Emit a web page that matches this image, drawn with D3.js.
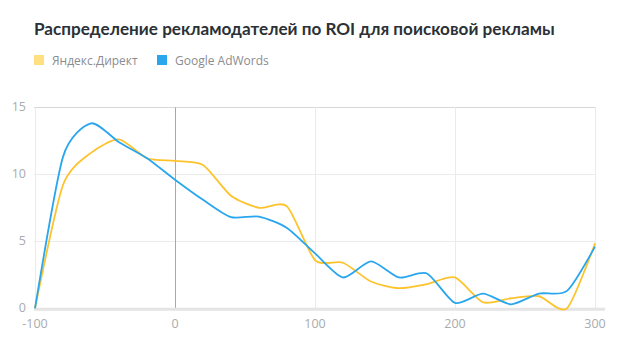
<!DOCTYPE html>
<html><head><meta charset="utf-8">
<script src="https://cdn.jsdelivr.net/npm/d3@7"></script>
<style>
html,body{margin:0;padding:0;background:#fff;}
svg{display:block;font-family:"Open Sans","Noto Sans",sans-serif;}
</style></head>
<body><svg id="c" width="625" height="352"></svg>
<script>
const roi = [-100,-80,-60,-40,-20,0,20,40,60,80,100,120,140,160,180,200,220,240,260,280,300];
const yandex = [0,9.2,11.6,12.6,11.2,11.0,10.7,8.4,7.5,7.6,3.6,3.4,2.0,1.5,1.8,2.3,0.45,0.75,0.9,0.0,4.85];
const google = [0,11.3,13.8,12.4,11.2,9.6,8.1,6.8,6.85,6.0,4.1,2.3,3.5,2.3,2.6,0.4,1.1,0.3,1.1,1.3,4.6];
const xTicks = [-100,0,100,200,300];
const yTicks = [0,5,10,15];
const seriesNames = ["Яндекс.Директ","Google AdWords"];
const colors = ["#fcc32c","#2aa6ee"];
const legendColors = ["#ffdf80","#2aa6ee"];

const svg = d3.select("#c");
const x = d3.scaleLinear().domain([-100,300]).range([35,595]);
const y = d3.scaleLinear().domain([0,15]).range([308.3,107.3]);

const title = svg.append("text").attr("x",34).attr("y",35).attr("font-size",17).attr("font-weight",700)
  .attr("font-family","Lato, 'Open Sans', sans-serif")
  .attr("fill","#2b3136").text("Распределение рекламодателей по ROI для поисковой рекламы");
const tw = title.node().getComputedTextLength();
title.attr("font-size", 17*521/tw);

const lg = svg.append("g");
const legX = [34,157];
seriesNames.forEach((n,i)=>{
  lg.append("rect").attr("x",legX[i]).attr("y",55).attr("width",10).attr("height",10).attr("fill",legendColors[i]);
  lg.append("text").attr("x",legX[i]+18).attr("y",64.5).attr("font-size",12).attr("fill","#8a8d90").text(n);
});

// horizontal grid
svg.append("g").selectAll("line").data(yTicks.filter(d=>d>0)).join("line")
  .attr("x1",34).attr("x2",596).attr("y1",d=>Math.round(y(d))+0.5).attr("y2",d=>Math.round(y(d))+0.5)
  .attr("stroke",d=>d===15?"#d8d8d8":"#ebebeb").attr("stroke-width",1);
// vertical grid
svg.append("g").selectAll("line").data(xTicks).join("line")
  .attr("x1",d=>Math.round(x(d))+0.5).attr("x2",d=>Math.round(x(d))+0.5)
  .attr("y1",y(15)).attr("y2",y(0))
  .attr("stroke",d=>d===0?"#a8a8a8":"#ebebeb").attr("stroke-width",1);
// bottom axis
svg.append("line").attr("x1",34).attr("x2",605).attr("y1",y(0)+1).attr("y2",y(0)+1)
  .attr("stroke","#e4e4e4").attr("stroke-width",3);

// y labels
svg.append("g").selectAll("text").data(yTicks).join("text")
  .attr("x",26).attr("y",d=>y(d)+4).attr("text-anchor","end").attr("font-size",12.5).attr("fill","#a9abad").text(d=>d);
// x labels
svg.append("g").selectAll("text").data(xTicks).join("text")
  .attr("x",d=>x(d)).attr("y",328).attr("text-anchor","middle").attr("font-size",12.5).attr("fill","#a9abad").text(d=>d);

const line = d3.line().x(d=>x(d[0])).y(d=>y(d[1])).curve(d3.curveCardinal.tension(0.3));
[yandex,google].forEach((s,i)=>{
  svg.append("path").datum(roi.map((r,j)=>[r,s[j]])).attr("d",line)
    .attr("fill","none").attr("stroke",colors[i]).attr("stroke-width",1.8);
});
</script></body></html>
